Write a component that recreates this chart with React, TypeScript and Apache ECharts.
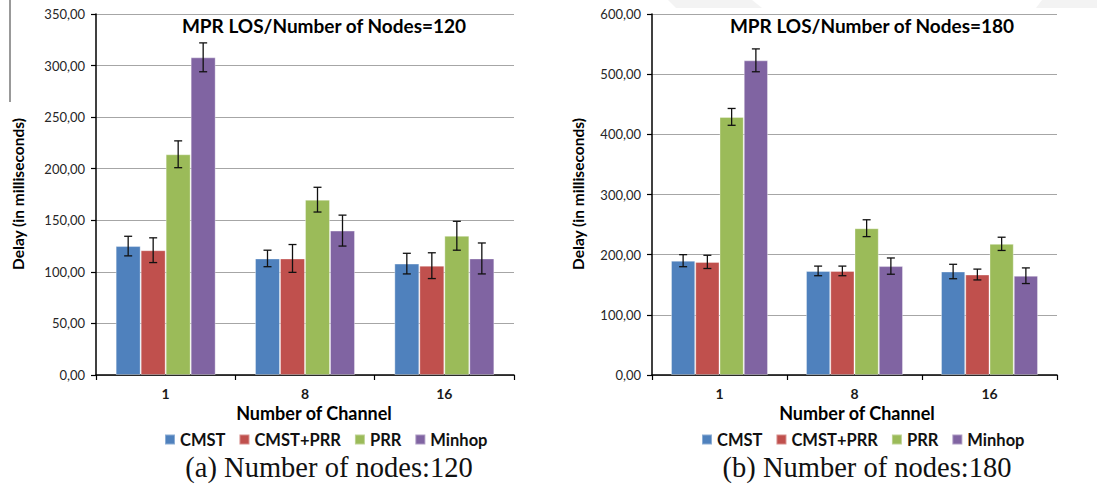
import React, { useEffect, useRef } from "react";
import * as echarts from "echarts";

const categories = ["1", "8", "16"];
const seriesNames = ["CMST", "CMST+PRR", "PRR", "Minhop"];
const yTicks120 = { min: 0, max: 350, interval: 50 };
const yTicks180 = { min: 0, max: 600, interval: 100 };

// Number of nodes = 120
const cmst120 = [125, 113, 108];
const cmstPrr120 = [121, 113, 106];
const prr120 = [214, 170, 135];
const minhop120 = [308, 140, 113];
const cmst120Err = [9.5, 8, 10];
const cmstPrr120Err = [12, 13.5, 12.5];
const prr120Err = [13, 12, 14];
const minhop120Err = [14, 15, 15];

// Number of nodes = 180
const cmst180 = [190, 173, 172];
const cmstPrr180 = [188, 173, 167];
const prr180 = [429, 244, 218];
const minhop180 = [523, 181, 165];
const cmst180Err = [10, 8, 12];
const cmstPrr180Err = [11, 8, 9];
const prr180Err = [14, 14, 11];
const minhop180Err = [19, 13.5, 13];

const title120 = "MPR LOS/Number of Nodes=120";
const title180 = "MPR LOS/Number of Nodes=180";
const xTitle = "Number of Channel";
const yTitle = "Delay (in milliseconds)";
const caption120 = "(a) Number of nodes:120";
const caption180 = "(b) Number of nodes:180";

const COLORS = ["#4f81bd", "#c0504d", "#9bbb59", "#8064a2"];
const FONT = "Lato, 'Open Sans', sans-serif";
const SERIF = "'Liberation Serif', 'DejaVu Serif', serif";

function fmt(v: number) {
  return v.toFixed(2).replace(".", ",");
}

function barSeries(name: string, data: number[], idx: number, axis: number, bw: number) {
  return {
    type: "bar",
    name,
    xAxisIndex: axis,
    yAxisIndex: axis,
    data,
    barWidth: bw,
    barGap: "0%",
    itemStyle: { color: COLORS[idx], borderColor: "rgba(255,255,255,0.35)", borderWidth: 1 },
  };
}

function errSeries(data: number[], errs: number[], idx: number, axis: number, bw: number) {
  return {
    type: "custom",
    xAxisIndex: axis,
    yAxisIndex: axis,
    silent: true,
    z: 5,
    encode: { x: 0, y: 1 },
    data: data.map((v, i) => [i, v, errs[i]]),
    renderItem: (_p: any, api: any) => {
      const ci = api.value(0);
      const v = api.value(1);
      const e = api.value(2);
      const top = api.coord([ci, v + e]);
      const bot = api.coord([ci, v - e]);
      const x = top[0] + (idx - 1.5) * bw;
      const cap = 4;
      const st = { stroke: "#111", lineWidth: 1.3 };
      return {
        type: "group",
        children: [
          { type: "line", shape: { x1: x, y1: top[1], x2: x, y2: bot[1] }, style: st },
          { type: "line", shape: { x1: x - cap, y1: top[1], x2: x + cap, y2: top[1] }, style: st },
          { type: "line", shape: { x1: x - cap, y1: bot[1], x2: x + cap, y2: bot[1] }, style: st },
        ],
      };
    },
  };
}

function xAxis(gridIndex: number) {
  return {
    type: "category",
    gridIndex,
    data: categories,
    axisLine: { lineStyle: { color: "#000", width: 1.5 } },
    axisTick: { show: true, length: 5, alignWithLabel: false, lineStyle: { color: "#000", width: 1.2 } },
    axisLabel: { margin: 11, fontFamily: FONT, fontSize: 14, fontWeight: "bold", color: "#1a1a1a" },
  };
}

function yAxis(gridIndex: number, t: { min: number; max: number; interval: number }) {
  return {
    type: "value",
    gridIndex,
    min: t.min,
    max: t.max,
    interval: t.interval,
    axisLine: { show: true, lineStyle: { color: "#000", width: 1.5 } },
    axisTick: { show: true, length: 5, lineStyle: { color: "#000", width: 1.2 } },
    axisLabel: { margin: 11, formatter: fmt, fontFamily: FONT, fontSize: 13, color: "#262626" },
    splitLine: { lineStyle: { color: "#a6a6a6", width: 1 } },
  };
}

export default function App() {
  const ref = useRef<HTMLDivElement>(null);
  useEffect(() => {
    if (!ref.current) return;
    const chart = echarts.init(ref.current, undefined, { renderer: "svg" });
    const bwL = 25;
    const bwR = 24.25;
    const legendCommon = {
      data: seriesNames,
      icon: "rect",
      itemWidth: 10,
      itemHeight: 10,
      itemGap: 13,
      padding: 0,
      textStyle: { fontFamily: FONT, fontSize: 16.5, fontWeight: "bold", color: "#111" },
    };
    const tBold = (size: number) => ({ fontFamily: FONT, fontSize: size, fontWeight: "bold", fill: "#000", align: "center", verticalAlign: "middle" });
    chart.setOption({
      animation: false,
      backgroundColor: "#fff",
      grid: [
        { left: 96, top: 14, width: 418, height: 361 },
        { left: 652, top: 14, width: 405, height: 361 },
      ],
      xAxis: [xAxis(0), xAxis(1)],
      yAxis: [yAxis(0, yTicks120), yAxis(1, yTicks180)],
      legend: [
        { ...legendCommon, left: 164, top: 431 },
        { ...legendCommon, left: 701, top: 431 },
      ],
      series: [
        barSeries(seriesNames[0], cmst120, 0, 0, bwL),
        barSeries(seriesNames[1], cmstPrr120, 1, 0, bwL),
        barSeries(seriesNames[2], prr120, 2, 0, bwL),
        barSeries(seriesNames[3], minhop120, 3, 0, bwL),
        errSeries(cmst120, cmst120Err, 0, 0, bwL),
        errSeries(cmstPrr120, cmstPrr120Err, 1, 0, bwL),
        errSeries(prr120, prr120Err, 2, 0, bwL),
        errSeries(minhop120, minhop120Err, 3, 0, bwL),
        barSeries(seriesNames[0], cmst180, 0, 1, bwR),
        barSeries(seriesNames[1], cmstPrr180, 1, 1, bwR),
        barSeries(seriesNames[2], prr180, 2, 1, bwR),
        barSeries(seriesNames[3], minhop180, 3, 1, bwR),
        errSeries(cmst180, cmst180Err, 0, 1, bwR),
        errSeries(cmstPrr180, cmstPrr180Err, 1, 1, bwR),
        errSeries(prr180, prr180Err, 2, 1, bwR),
        errSeries(minhop180, minhop180Err, 3, 1, bwR),
      ],
      graphic: [
        { type: "polygon", silent: true, z: -10, shape: { points: [[668, 0], [752, 0], [762, 8], [676, 8]] }, style: { fill: "#f3f3f3" } },
        { type: "polygon", silent: true, z: -10, shape: { points: [[1042, 0], [1097, 0], [1097, 8], [1036, 8]] }, style: { fill: "#f3f3f3" } },
        { type: "line", silent: true, shape: { x1: 10, y1: 0, x2: 10, y2: 102 }, style: { stroke: "#555", lineWidth: 1.2 } },
        { type: "text", x: 324, y: 25, style: { text: title120, ...tBold(19) } },
        { type: "text", x: 872, y: 25, style: { text: title180, ...tBold(19) } },
        { type: "text", x: 314, y: 413, style: { text: xTitle, ...tBold(18) } },
        { type: "text", x: 857, y: 413, style: { text: xTitle, ...tBold(18) } },
        { type: "text", x: 18, y: 194, rotation: Math.PI / 2, style: { text: yTitle, ...tBold(15.5) } },
        { type: "text", x: 578, y: 194, rotation: Math.PI / 2, style: { text: yTitle, ...tBold(15.5) } },
        { type: "text", x: 329, y: 467, style: { text: caption120, fontFamily: SERIF, fontSize: 28.5, fill: "#111", align: "center", verticalAlign: "middle" } },
        { type: "text", x: 867, y: 467, style: { text: caption180, fontFamily: SERIF, fontSize: 28.5, fill: "#111", align: "center", verticalAlign: "middle" } },
      ],
    });
    return () => chart.dispose();
  }, []);
  return <div ref={ref} style={{ position: "absolute", left: 0, top: 0, width: 1097, height: 486 }} />;
}
